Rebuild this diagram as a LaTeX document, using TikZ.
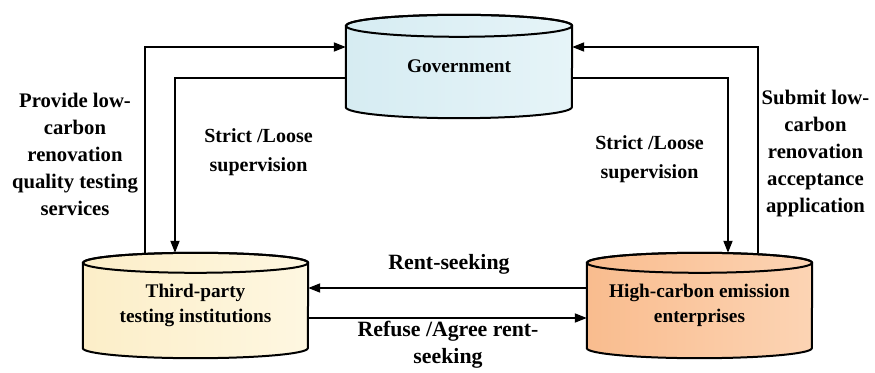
\documentclass[tikz,border=0pt]{standalone}
\usepackage{fontspec}
\setmainfont{Liberation Serif}
\usetikzlibrary{arrows.meta,backgrounds,calc}
\definecolor{govL}{RGB}{214,236,242}
\definecolor{govR}{RGB}{230,244,248}
\definecolor{tpL}{RGB}{252,238,200}
\definecolor{tpR}{RGB}{254,247,225}
\definecolor{hcL}{RGB}{249,188,142}
\definecolor{hcR}{RGB}{252,212,180}
\tikzset{
  box/.style={rectangle, inner sep=0pt, align=center, font=\fontsize{19.3}{25}\selectfont\bfseries},
  lbl/.style={inner sep=0pt, align=center, font=\fontsize{20.7}{27}\selectfont\bfseries},
  conn/.style={line width=1.8pt, -{Triangle[length=12pt,width=9pt]}},
  cyl/.style={line width=2pt, draw=black},
}
\newcommand{\cylfill}[4]{% node, ry, left color, right color
  \path[cyl, left color=#3, right color=#4]
    ($(#1.north west)+(0,-#2)$) -- ($(#1.south west)+(0,#2)$)
    arc[start angle=180, end angle=360, x radius={0.5*\cylw}, y radius=#2]
    -- ($(#1.north east)+(0,-#2)$)
    arc[start angle=0, end angle=180, x radius={0.5*\cylw}, y radius=#2] -- cycle;
  \draw[cyl] ($(#1.north)+(0,-#2)$) ellipse[x radius={0.5*\cylw}, y radius=#2];
}
\def\cylw{225pt}
\begin{document}
\begin{tikzpicture}[x=1pt,y=1pt]
\useasboundingbox (0,0) rectangle (875,372);

\node[box, minimum width=226pt, minimum height=103pt] (gov) at (459,305.5) {Government};
\node[box, minimum width=225pt, minimum height=105pt] (tp) at (195.5,66.5) {Third-party\\testing institutions};
\node[box, minimum width=225pt, minimum height=105pt] (hc) at (699.5,66.5) {High-carbon emission\\enterprises};

\begin{scope}[on background layer]
  \def\cylw{226pt}
  \cylfill{gov}{11pt}{govL}{govR}
  \def\cylw{225pt}
  \cylfill{tp}{10pt}{tpL}{tpR}
  \cylfill{hc}{10pt}{hcL}{hcR}
\end{scope}

% left loop
\draw[conn] ([xshift=-50.5pt]tp.north) |- ([yshift=19.5pt]gov.west);
\draw[conn] ([yshift=-11.5pt]gov.west) -| ([xshift=-20.5pt]tp.north);
% right loop
\draw[conn] ([yshift=-11.5pt]gov.east) -| ([xshift=28.5pt]hc.north);
\draw[conn] ([xshift=58.5pt]hc.north) |- ([yshift=19.5pt]gov.east);
% bottom
\draw[conn] ([yshift=17.5pt]hc.west) -- ([yshift=17.5pt]tp.east);
\draw[conn] ([yshift=-12.5pt]tp.east) -- ([yshift=-12.5pt]hc.west);

\node[lbl] (l1) at (75,218) {Provide low-\\carbon\\renovation\\quality testing\\services};
\node[lbl] (l2) at (815.5,218) {Submit low-\\carbon\\renovation\\acceptance\\application};
\node[box, font=\fontsize{20}{29}\selectfont\bfseries] (l3) at (258.5,220) {Strict /Loose\\supervision};
\node[box, font=\fontsize{20}{29}\selectfont\bfseries] (l4) at (649.5,213) {Strict /Loose\\supervision};
\node[lbl, font=\fontsize{21.8}{27}\selectfont\bfseries] (l5) at (449,108) {Rent-seeking};
\node[lbl, font=\fontsize{21.8}{27}\selectfont\bfseries] (l6) at (448,27) {Refuse /Agree rent-\\seeking};
\end{tikzpicture}
\end{document}
